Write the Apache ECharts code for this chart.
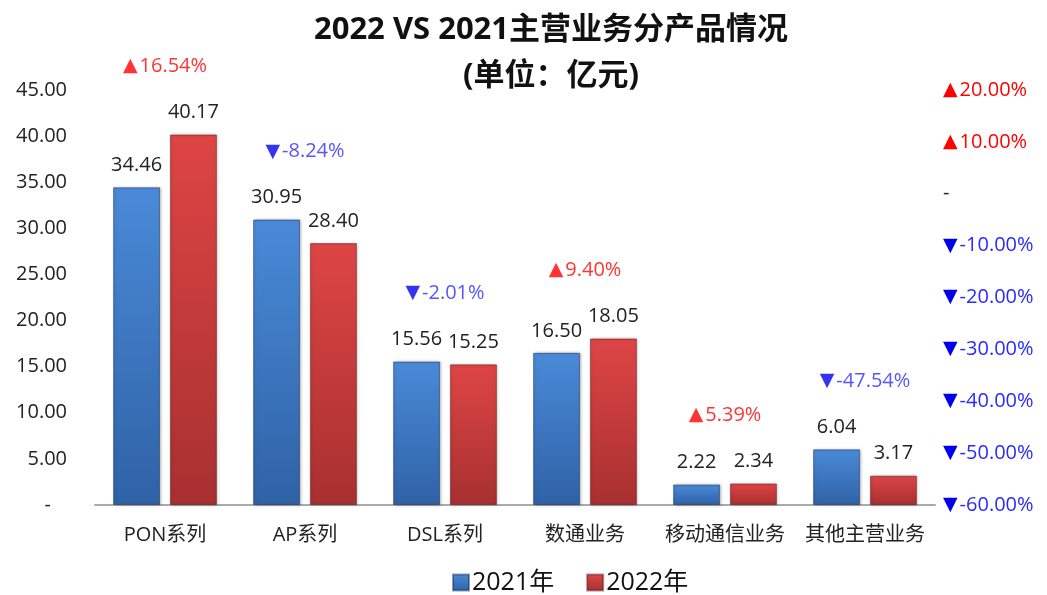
<!DOCTYPE html>
<html>
<head>
<meta charset="utf-8">
<title>2022 VS 2021主营业务分产品情况</title>
<script src="https://cdn.jsdelivr.net/npm/echarts@6/dist/echarts.min.js"></script>
<style>
    html, body { margin: 0; padding: 0; background: #fff; }
    #main { width: 1047px; height: 595px; }
</style>
</head>
<body>
<div id="main"></div>
<script type="text/javascript">
    // 数据
    var categories = ['PON系列', 'AP系列', 'DSL系列', '数通业务', '移动通信业务', '其他主营业务'];
    var rev2021 = [34.46, 30.95, 15.56, 16.50, 2.22, 6.04];
    var rev2022 = [40.17, 28.40, 15.25, 18.05, 2.34, 3.17];
    var growth = [16.54, -8.24, -2.01, 9.40, 5.39, -47.54];   // 同比 %
    var leftTicks = { min: 0, max: 45, interval: 5 };
    var rightTicks = { min: -60, max: 20, interval: 10 };

    var font = '"Open Sans", "Noto Sans CJK SC", sans-serif';
    var triFont = '"DejaVu Sans", sans-serif';
    var UP = '#ff0000', DOWN = '#2a2aff', DOWN_TRI = '#0000ee';

    // 增长率标签挂在两根柱子较高的一根上面
    var anchor = categories.map(function (c, i) {
        return { value: Math.max(rev2021[i], rev2022[i]), g: growth[i] };
    });

    function pctText(v) {
        if (v > 0) return '{upT|▲}{up|' + v.toFixed(2) + '%}';
        if (v < 0) return '{downT|▼}{down|' + v.toFixed(2) + '%}';
        return '{zero|-}';
    }

    var pctRich = {
        upT: { fontSize: 19, color: UP, fontFamily: triFont, padding: [0, 2, 0, 0] },
        up: { fontSize: 20, color: UP, fontFamily: font },
        downT: { fontSize: 19, color: DOWN_TRI, fontFamily: triFont, padding: [0, 2, 0, 0] },
        down: { fontSize: 20, color: DOWN, fontFamily: font },
        zero: { fontSize: 20, color: '#222', fontFamily: font }
    };

    function barColor(top, bottom) {
        return {
            type: 'linear', x: 0, y: 0, x2: 0, y2: 1,
            colorStops: [{ offset: 0, color: top }, { offset: 1, color: bottom }]
        };
    }

    var myChart = echarts.init(document.getElementById('main'));
    myChart.setOption({
        backgroundColor: '#fff',
        textStyle: { fontFamily: font },
        title: [
            {
                text: '2022 VS 2021主营业务分产品情况',
                left: 546, top: 10, textAlign: 'center',
                textStyle: { fontSize: 31, fontWeight: 'bold', color: '#111', fontFamily: font }
            },
            {
                text: '(单位：亿元)',
                left: 546, top: 56, textAlign: 'center',
                textStyle: { fontSize: 31, fontWeight: 'bold', color: '#111', fontFamily: font }
            }
        ],
        legend: {
            top: 565,
            left: 447,
            icon: 'rect',
            itemWidth: 16,
            itemHeight: 16,
            itemGap: 32,
            textStyle: { fontSize: 25, color: '#111', fontFamily: font, padding: [0, 0, 0, -2] },
            data: ['2021年', '2022年']
        },
        grid: { left: 95, right: 112, top: 90, bottom: 90 },
        xAxis: {
            type: 'category',
            data: categories,
            axisLine: { lineStyle: { color: '#aaaaaa', width: 2 } },
            axisTick: { show: false },
            axisLabel: { interval: 0, fontSize: 20, color: '#222', margin: 20, fontFamily: font }
        },
        yAxis: [
            {
                type: 'value',
                min: leftTicks.min, max: leftTicks.max, interval: leftTicks.interval,
                splitLine: { show: false },
                axisLine: { show: false },
                axisTick: { show: false },
                axisLabel: {
                    fontSize: 20, color: '#222', margin: 28, fontFamily: font,
                    formatter: function (v) { return v === 0 ? '{z|-}' : v.toFixed(2); },
                    rich: { z: { fontSize: 20, color: '#222', padding: [0, 16, 0, 0] } }
                }
            },
            {
                type: 'value',
                min: rightTicks.min, max: rightTicks.max, interval: rightTicks.interval,
                splitLine: { show: false },
                axisLine: { show: false },
                axisTick: { show: false },
                axisLabel: {
                    margin: 8, align: 'left', fontFamily: font,
                    formatter: pctText,
                    rich: pctRich
                }
            }
        ],
        series: [
            {
                name: '2021年',
                type: 'bar',
                data: rev2021,
                barWidth: 47,
                barGap: '21%',
                itemStyle: {
                    color: barColor('#4a8ad8', '#2f62a6'),
                    borderColor: 'rgba(20,40,80,0.45)',
                    borderWidth: 1,
                    shadowColor: 'rgba(0,0,0,0.3)',
                    shadowBlur: 3,
                    shadowOffsetX: 1
                },
                label: {
                    show: true, position: 'top', distance: 12,
                    fontSize: 20, color: '#222', fontFamily: font,
                    formatter: function (p) { return p.value.toFixed(2); }
                }
            },
            {
                name: '2022年',
                type: 'bar',
                data: rev2022,
                barWidth: 47,
                itemStyle: {
                    color: barColor('#de4545', '#a83030'),
                    borderColor: 'rgba(80,20,20,0.45)',
                    borderWidth: 1,
                    shadowColor: 'rgba(0,0,0,0.3)',
                    shadowBlur: 3,
                    shadowOffsetX: 1
                },
                label: {
                    show: true, position: 'top', distance: 12,
                    fontSize: 20, color: '#222', fontFamily: font,
                    formatter: function (p) { return p.value.toFixed(2); }
                }
            },
            {
                name: '同比',
                type: 'scatter',
                data: anchor,
                symbolSize: 0,
                silent: true,
                label: {
                    show: true, position: 'top', distance: 58,
                    fontFamily: font,
                    formatter: function (p) { return pctText(p.data.g); },
                    rich: pctRich
                }
            }
        ]
    });
</script>
</body>
</html>
